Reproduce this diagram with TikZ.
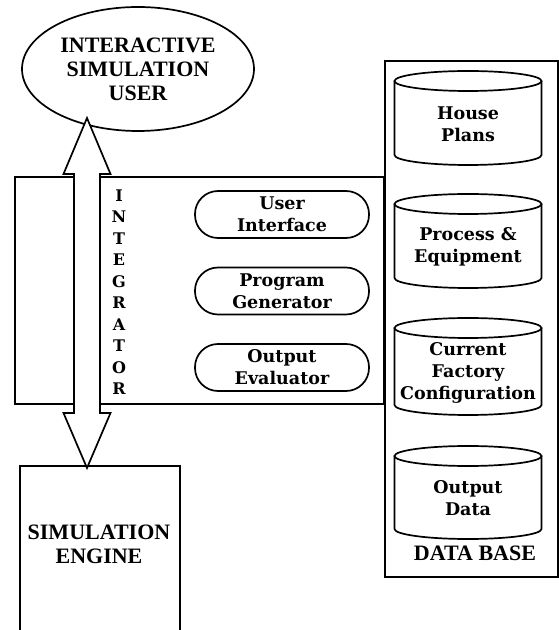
\documentclass[tikz,border=0pt]{standalone}
\usepackage{fontspec}
\setmainfont{Liberation Serif}
\newfontfamily\boxfont{DejaVu Serif}
\usetikzlibrary{shapes.geometric}
\tikzset{
	outline/.style={draw, line width=1.7pt},
	capstext/.style={font=\bfseries\fontsize{22}{24}\selectfont, align=center, inner sep=0pt},
	boxtext/.style={font=\boxfont\bfseries\fontsize{17.5}{22}\selectfont, align=center, inner sep=0pt},
	pill/.style={outline, fill=white, rounded corners=23pt, minimum width=174pt, minimum height=47pt, boxtext},
	letter/.style={font=\boxfont\bfseries\fontsize{16}{16}\selectfont, inner sep=0pt},
}
% a drum: name, centre x, top y, bottom y, label
\def\drum(#1)(#2,#3,#4)#5{%
	\draw[outline, fill=white] (#2-73.5,#3-10) -- (#2-73.5,#4+10) arc[start angle=180, end angle=360, x radius=73.5pt, y radius=10pt] -- (#2+73.5,#3-10);
	\draw[outline, fill=white] (#2,#3-10) ellipse[x radius=73.5pt, y radius=10pt];
	\node[boxtext] (#1) at (#2,{(#3+#4)/2-6}) {#5};}

\begin{document}
\begin{tikzpicture}[x=1pt, y=1pt]
			%%%%% START %%%%%
			\useasboundingbox (0,0) rectangle (559,630);
			
			\node[outline, ellipse, minimum width=232pt, minimum height=124pt, capstext] (user) at (138,561) {INTERACTIVE\\SIMULATION\\USER};
			
			\node[outline, anchor=south west, minimum width=369pt, minimum height=227pt] (integrator) at (14,225) {};
			\node[outline, anchor=south west, minimum width=173pt, minimum height=516pt] (database) at (384,52) {};
			\node[outline, anchor=north west, minimum width=160pt, minimum height=180pt] (engine) at (19,165) {};
			\node[capstext] (enginetext) at (99,86) {SIMULATION\\ENGINE};
			
			% two-headed arrow through the integrator
			\coordinate (uptip) at (87,512);
			\coordinate (downtip) at ([yshift=-3pt]engine.north -| uptip);
			\draw[outline, fill=white, line join=miter] (uptip) -- ++(23.5,-56) -- ++(-10.5,0) -- ++(0,-239) -- ++(10.5,0)
				-- (downtip) -- ++(-23.5,55) -- ++(10.5,0) -- ++(0,239) -- ++(-10.5,0) -- cycle;
			
			\foreach \ch [count=\i from 0] in {I,N,T,E,G,R,A,T,O,R}
				\node[letter] (int\i) at (119,434.5-21.5*\i) {\ch};
			
			\node[pill] (ui) at (282,415.5) {User\\Interface};
			\node[pill] (pg) at (282,339) {Program\\Generator};
			\node[pill] (oe) at (282,262.5) {Output\\Evaluator};
			
			\drum(plans)(468,559,465){House\\Plans}
			\drum(process)(468,436,342){Process \&\\Equipment}
			\drum(config)(468,312,215){Current\\Factory\\Configuration}
			\drum(outdata)(468,184,91){Output\\Data}
			
			\node[capstext] (dbtitle) at (475,77) {DATA BASE};
			
			%%%%% END %%%%%
\end{tikzpicture}
\end{document}
